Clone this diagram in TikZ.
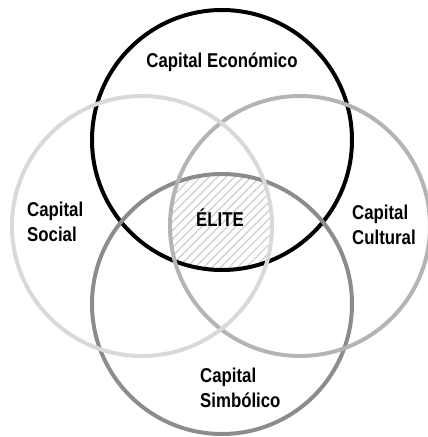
\documentclass[tikz,border=0pt]{standalone}
\usepackage{fontspec}
\newfontfamily\capfont[FakeStretch=0.84]{Liberation Sans}
\usetikzlibrary{patterns.meta}

\tikzset{
  ring/.style={line width=4pt},
  caplabel/.style={font=\capfont\bfseries\fontsize{20}{25}\selectfont, align=left, inner sep=0pt}
}
\definecolor{ringleft}{HTML}{D9D9D9}
\definecolor{ringright}{HTML}{B4B4B4}
\definecolor{ringbottom}{HTML}{8C8C8C}
\definecolor{hatch}{HTML}{CDCDCD}

\begin{document}
\begin{tikzpicture}[x=1pt,y=1pt,yscale=-1,xscale=1]
        \useasboundingbox (0,0) rectangle (428,437);
        % hatched core where all four meet
        \begin{scope}
            \clip (222,140) circle (130);
            \clip (142,226) circle (130);
            \clip (300,226) circle (130);
            \fill [pattern={Lines[angle=45,distance=6pt,line width=1.2pt]}, pattern color=hatch] (222,304) circle (130);
        \end{scope}
        \draw [ring, black] (222,140) circle (130);
        \draw [ring, ringbottom] (222,304) circle (130);
        \draw [ring, ringright] (300,226) circle (130);
        \draw [ring, ringleft] (142,226) circle (130);
        \node (eco) at (222,62) [caplabel] {Capital Económico};
        \node (soc) at (27,222) [caplabel, anchor=west] {Capital\\Social};
        \node (cul) at (352,225) [caplabel, anchor=west] {Capital\\Cultural};
        \node (sim) at (200,388) [caplabel, anchor=west] {Capital\\Simbólico};
        \node (eli) at (220,218) [caplabel] {ÉLITE};
    \end{tikzpicture}
\end{document}
